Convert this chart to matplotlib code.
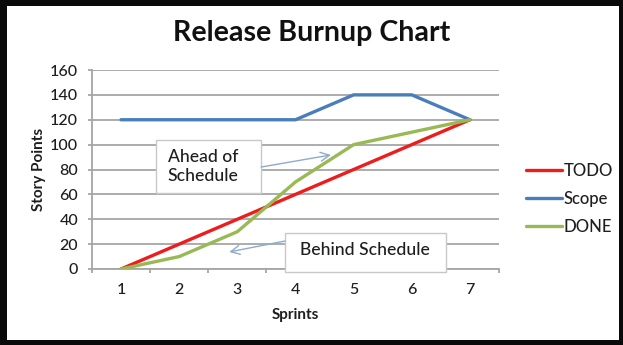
import matplotlib
matplotlib.use("Agg")
import matplotlib.pyplot as plt
from matplotlib.patches import Rectangle
import numpy as np

plt.rcParams['font.family'] = ['Lato', 'DejaVu Sans']

sprints = [1, 2, 3, 4, 5, 6, 7]
todo = [0, 20, 40, 60, 80, 100, 120]
scope = [120, 120, 120, 120, 140, 140, 120]
done = [0, 10, 30, 70, 100, 110, 120]
y_ticks = [0, 20, 40, 60, 80, 100, 120, 140, 160]

W, H = 623, 345
fig = plt.figure(figsize=(W / 100, H / 100), dpi=100, facecolor='#0a0a0a')

# white canvas inside the dark frame
fig.patches.append(Rectangle((7 / W, 5 / H), 612 / W, 334 / H,
                             transform=fig.transFigure, facecolor='white',
                             edgecolor='none', zorder=-1))

ax = fig.add_axes([92 / W, 76 / H, 407 / W, 199 / H])
ax.set_facecolor('none')

grid_c = '#a6a6a6'
txt_c = '#1e1e1e'
ax.set_xlim(0.5, 7.5)
ax.set_ylim(0, 160)
ax.set_yticks(y_ticks)
ax.yaxis.grid(True, color=grid_c, linewidth=1.3)
ax.set_axisbelow(True)
for s in ['top', 'right']:
    ax.spines[s].set_visible(False)
for s in ['left', 'bottom']:
    ax.spines[s].set_color(grid_c)
    ax.spines[s].set_linewidth(1.3)

ax.set_xticks(sprints)
ax.set_xticks(np.arange(0.5, 7.6, 1.0), minor=True)
ax.tick_params(axis='x', which='major', length=0, pad=10, labelsize=11.5,
               labelcolor=txt_c)
ax.tick_params(axis='x', which='minor', length=3, width=1.3, color=grid_c)
ax.tick_params(axis='y', length=3, width=1.3, color=grid_c, pad=7,
               labelsize=11.5, labelcolor=txt_c)
for lab in ax.get_xticklabels() + ax.get_yticklabels():
    lab.set_fontweight('medium')

lw = 2.4
ax.plot(sprints, todo, color='#ee1c1c', linewidth=lw, label='TODO',
        solid_capstyle='round', zorder=3)
ax.plot(sprints, scope, color='#4a7ebb', linewidth=lw, label='Scope',
        solid_capstyle='round', zorder=3)
ax.plot(sprints, done, color='#98b954', linewidth=lw, label='DONE',
        solid_capstyle='round', zorder=3)

ax.set_xlabel('Sprints', fontsize=11, fontweight='bold', labelpad=8,
              color=txt_c)
ax.set_ylabel('Story Points', fontsize=11, fontweight='bold', labelpad=3,
              color=txt_c)

fig.text(312 / W, 1 - 33 / H, 'Release Burnup Chart', ha='center',
         va='center', fontsize=20.6, fontweight='bold', color='#111111')

leg = ax.legend(loc='upper left', bbox_to_anchor=(526 / W, 1 - 163 / H),
                bbox_transform=fig.transFigure, frameon=False,
                prop={'size': 12, 'weight': 'medium'},
                handlelength=2.15, handletextpad=0.12, labelspacing=0.72,
                borderaxespad=0, borderpad=0)
for t in leg.get_texts():
    t.set_color(txt_c)

# callout boxes with arrows
box_kw = dict(facecolor='white', edgecolor='#c8c8c8', linewidth=1.0,
              clip_on=False, zorder=5)
arrow_kw = dict(arrowstyle='->', color='#8eaad0', linewidth=1.0,
                mutation_scale=16, shrinkA=0, shrinkB=0)

ax.add_patch(Rectangle((1.60, 61.1), 1.81, 42.6, **box_kw))
ax.text(1.80, 82.5, 'Ahead of\nSchedule', ha='left', va='center',
        fontsize=12.6, fontweight='medium', color=txt_c, linespacing=1.2,
        zorder=6)
ax.annotate('', xy=(4.61, 91.7), xytext=(3.41, 82.0),
            arrowprops=arrow_kw, zorder=6)

ax.add_patch(Rectangle((3.82, -2.4), 2.77, 31.3, **box_kw))
ax.text(5.20, 15.0, 'Behind Schedule', ha='center', va='center',
        fontsize=12.6, fontweight='medium', color=txt_c, zorder=6)
ax.annotate('', xy=(2.86, 13.7), xytext=(3.82, 22.5),
            arrowprops=arrow_kw, zorder=6)

fig.savefig('out.png', dpi=100, facecolor=fig.get_facecolor())
